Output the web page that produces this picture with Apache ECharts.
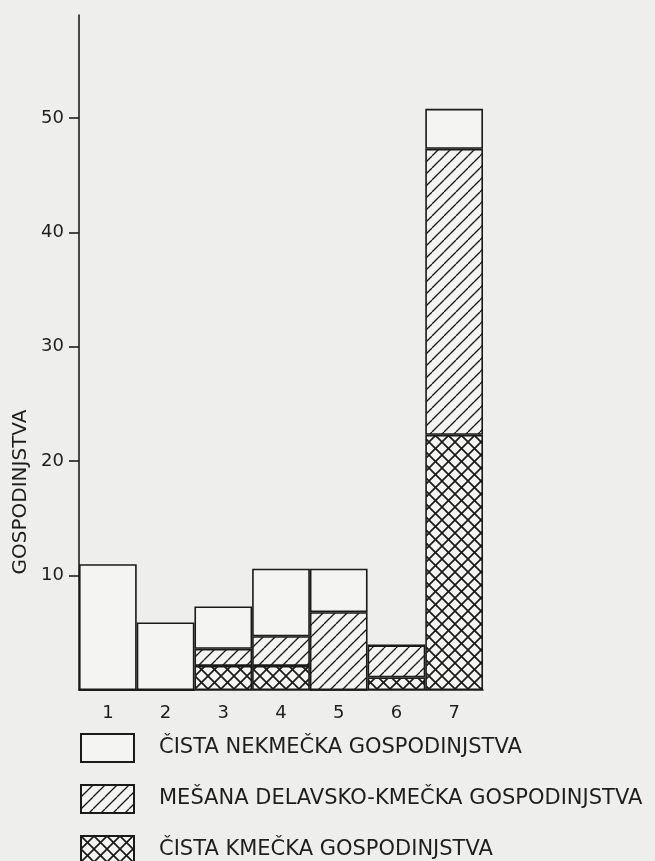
<!DOCTYPE html>
<html>
<head>
<meta charset="utf-8">
<script src="https://cdn.jsdelivr.net/npm/echarts@6/dist/echarts.min.js"></script>
<style>
html,body{margin:0;padding:0;background:#eeeeec;}
#c{width:655px;height:861px;}
</style>
</head>
<body>
<div id="c"></div>
<script>
// ---- data ----
const categories = ['1','2','3','4','5','6','7'];
const seriesNames = ['ČISTA NEKMEČKA GOSPODINJSTVA','MEŠANA DELAVSKO-KMEČKA GOSPODINJSTVA','ČISTA KMEČKA GOSPODINJSTVA'];
// segment heights (stacked bottom -> top: kmečka, mešana, nekmečka)
const kmecka   = [0, 0, 2.1, 2.1, 0, 1.1, 22.3];
const mesana   = [0, 0, 1.5, 2.6, 6.8, 2.8, 25.0];
const nekmecka = [11.0, 5.9, 3.7, 5.9, 3.8, 0, 3.5];
const yTicks = [10, 20, 30, 40, 50];
const yAxisTitle = 'GOSPODINJSTVA';

// ---- patterns ----
function hatchPattern(size, lw, cross){
  const c = document.createElement('canvas');
  c.width = size; c.height = size;
  const g = c.getContext('2d');
  g.fillStyle = '#f4f4f2';
  g.fillRect(0,0,size,size);
  g.strokeStyle = '#1a1a1a';
  g.lineWidth = lw;
  for (const k of [-size, 0, size]) {
    g.beginPath(); g.moveTo(k, size); g.lineTo(k + size, 0); g.stroke();
    if (cross) { g.beginPath(); g.moveTo(k, 0); g.lineTo(k + size, size); g.stroke(); }
  }
  return c;
}
const diagFill = {image: hatchPattern(12, 1.3, false), repeat: 'repeat'};
const crossFill = {image: hatchPattern(13, 1.7, true), repeat: 'repeat'};

const baseItem = {borderColor: '#1a1a1a', borderWidth: 1.6};
const ink = '#1e1e1e';

const chart = echarts.init(document.getElementById('c'));
chart.setOption({
  backgroundColor: '#eeeeec',
  animation: false,
  grid: {left: 79, right: 172, top: 15, bottom: 171},
  xAxis: {
    type: 'category',
    data: categories,
    axisLine: {lineStyle: {color: ink, width: 1.6}},
    axisTick: {show: false},
    axisLabel: {color: ink, fontFamily: 'DejaVu Sans', fontSize: 18, margin: 14}
  },
  yAxis: {
    type: 'value',
    min: 0, max: 59,
    splitLine: {show: false},
    axisLine: {show: true, lineStyle: {color: ink, width: 1.6}},
    axisTick: {show: true, length: 10, lineStyle: {color: ink, width: 1.6}, customValues: yTicks},
    axisLabel: {color: ink, fontFamily: 'DejaVu Sans', fontSize: 18, margin: 15, customValues: yTicks}
  },
  legend: {
    orient: 'vertical',
    left: 80, top: 733,
    height: 160,
    padding: 0,
    itemWidth: 53, itemHeight: 28,
    itemGap: 21,
    icon: 'rect',
    data: seriesNames,
    selectedMode: false,
    textStyle: {color: ink, fontFamily: 'DejaVu Sans', fontSize: 21, padding: [0,0,0,20]}
  },
  graphic: [{
    type: 'text',
    x: 20.5, y: 492,
    rotation: Math.PI / 2,
    style: {text: yAxisTitle, fill: ink, font: '20px "DejaVu Sans"', align: 'center', verticalAlign: 'middle'}
  }],
  series: [
    {name: seriesNames[2], type: 'bar', stack: 't', data: kmecka, barCategoryGap: '0%',
     itemStyle: Object.assign({color: crossFill}, baseItem)},
    {name: seriesNames[1], type: 'bar', stack: 't', data: mesana, barCategoryGap: '0%',
     itemStyle: Object.assign({color: diagFill}, baseItem)},
    {name: seriesNames[0], type: 'bar', stack: 't', data: nekmecka, barCategoryGap: '0%',
     itemStyle: Object.assign({color: '#f4f4f2'}, baseItem)}
  ]
});
</script>
</body>
</html>
